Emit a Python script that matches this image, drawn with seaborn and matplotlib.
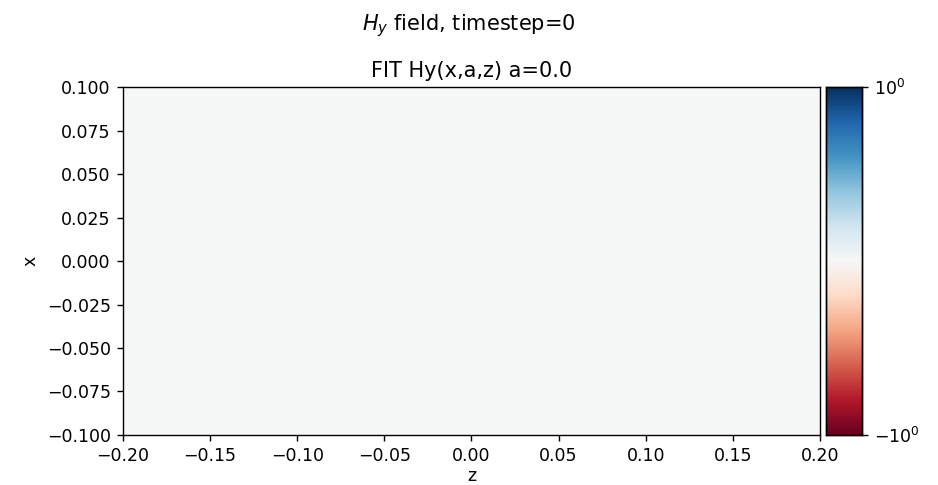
import numpy as np
import pandas as pd
import matplotlib
matplotlib.use("Agg")
import matplotlib.pyplot as plt
import seaborn as sns

# ---- data ----
z_ticks = [-0.20, -0.15, -0.10, -0.05, 0.00, 0.05, 0.10, 0.15, 0.20]
x_ticks = [-0.100, -0.075, -0.050, -0.025, 0.000, 0.025, 0.050, 0.075, 0.100]
z_range = [-0.2, 0.2]
x_range = [-0.1, 0.1]
n_x, n_z = 40, 80
field = np.zeros((n_x, n_z))          # Hy field at timestep 0 is zero everywhere
cbar_ticks = [-1.0, 1.0]
cbar_labels = [r"$\mathdefault{-10^{0}}$", r"$\mathdefault{10^{0}}$"]
title = "FIT Hy(x,a,z) a=0.0"
suptitle = r"$H_y$ field, timestep=0"

DPI = 125
fig = plt.figure(figsize=(938 / DPI, 485 / DPI), dpi=DPI)
ax = fig.add_axes([0.1311, 0.1031, 0.7431, 0.7175])
cax = fig.add_axes([0.8806, 0.1031, 0.0384, 0.7175])

df = pd.DataFrame(field)
sns.heatmap(df, ax=ax, cbar_ax=cax, cmap="RdBu", vmin=-1, vmax=1,
            xticklabels=False, yticklabels=False, linewidths=0)

for s in ax.spines.values():
    s.set_visible(True)
    s.set_color("black")
    s.set_linewidth(0.8)
ax.set_ylim(0, n_x)
ax.set_xlim(0, n_z)

def fmt(v, d):
    return f"{v:.{d}f}".replace("-", "\u2212")

zpos = [(z - z_range[0]) / (z_range[1] - z_range[0]) * n_z for z in z_ticks]
xpos = [(x - x_range[0]) / (x_range[1] - x_range[0]) * n_x for x in x_ticks]
ax.set_xticks(zpos)
ax.set_xticklabels([fmt(z, 2) for z in z_ticks], rotation=0, fontsize=10)
ax.set_yticks(xpos)
ax.set_yticklabels([fmt(x, 3) for x in x_ticks], rotation=0, fontsize=10)
ax.tick_params(axis="both", length=3.5, width=0.8, direction="out",
               bottom=True, left=True)
ax.set_xlabel("z", fontsize=10, labelpad=1)
ax.set_ylabel("x", fontsize=10)
ax.set_title(title, fontsize=12, pad=6)

cax.set_yticks(cbar_ticks)
cax.set_yticklabels(cbar_labels, fontsize=10)
cax.tick_params(length=3.5, width=0.8, right=True)
for s in cax.spines.values():
    s.set_visible(True)
    s.set_linewidth(0.8)

fig.suptitle(suptitle, fontsize=12, y=0.975)
fig.savefig("out.png", dpi=DPI)
